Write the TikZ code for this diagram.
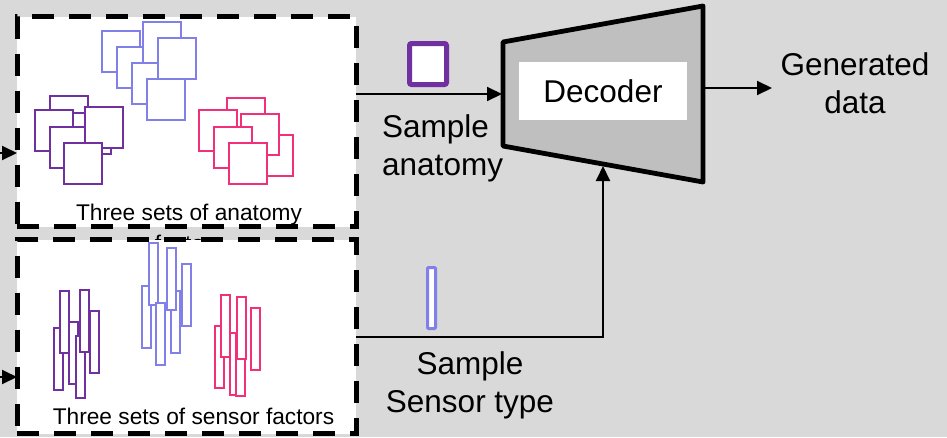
\documentclass[tikz,border=0pt]{standalone}
\usepackage{fontspec}
\setmainfont{Liberation Sans}
\usetikzlibrary{arrows.meta}
\definecolor{bgc}{RGB}{217,217,217}
\definecolor{decfill}{RGB}{191,191,191}
\definecolor{purp}{RGB}{112,48,160}
\definecolor{lblue}{RGB}{128,128,232}
\definecolor{pinkc}{RGB}{240,48,120}
\newcommand\fsq[3]{\draw[sq=#1] (#2,#3) rectangle ++(38,41);}
\newcommand\fbar[3]{\draw[sq=#1] (#2,#3) rectangle ++(8.5,62);}
\begin{document}
\begin{tikzpicture}[x=1pt,y=-1pt,
  dbox/.style={draw=black, fill=white, line width=5pt, dash pattern=on 22pt off 15pt, inner sep=0pt, outer sep=0pt},
  conn/.style={draw=black, line width=2pt, -{Triangle[length=15pt,width=14pt]}},
  sq/.style={draw=#1, fill=white, line width=2pt},
  bigtxt/.style={font=\fontsize{31.5}{38}\selectfont, inner sep=0pt},
  smalltxt/.style={font=\fontsize{22.7}{27}\selectfont, inner sep=0pt},
]
\useasboundingbox (0,0) rectangle (947,437);
\fill[bgc] (0,0) rectangle (947,437);

% top box
\node[dbox, minimum width=339, minimum height=210] (anat) at (186.5,121.5) {};
% blue squares
\fsq{lblue}{102}{31}
\fsq{lblue}{117}{47}
\fsq{lblue}{143}{22}
\fsq{lblue}{132}{63}
\fsq{lblue}{158}{38}
\fsq{lblue}{147}{79}
% purple squares
\fsq{purp}{50}{96}
\fsq{purp}{35}{110}
\fsq{purp}{73}{113}
\fsq{purp}{50}{127}
\fsq{purp}{85}{107}
\fsq{purp}{64}{143}
% pink squares
\fsq{pinkc}{227}{98}
\fsq{pinkc}{255}{135}
\fsq{pinkc}{199}{110}
\fsq{pinkc}{241}{114}
\fsq{pinkc}{214}{127}
\fsq{pinkc}{229}{143}
\node[smalltxt, anchor=base] (anattxt) at (189,220) {Three sets of anatomy};
\node[smalltxt, anchor=base] (anattxtb) at (189,251) {factors};

% bottom box
\node[dbox, minimum width=339, minimum height=194] (sens) at (186.5,336.5) {};
% purple bars
\fbar{purp}{54}{328}
\fbar{purp}{60}{291}
\fbar{purp}{69}{322}
\fbar{purp}{76}{336}
\fbar{purp}{80}{290}
\fbar{purp}{90}{311}
% blue bars
\fbar{lblue}{142}{286}
\fbar{lblue}{149}{243}
\fbar{lblue}{156}{303}
\fbar{lblue}{171}{291}
\fbar{lblue}{167}{248}
\fbar{lblue}{182}{264}
% pink bars
\fbar{pinkc}{215}{326}
\fbar{pinkc}{221}{295}
\fbar{pinkc}{230}{333}
\fbar{pinkc}{236}{334}
\fbar{pinkc}{237}{297}
\fbar{pinkc}{251}{308}
\node[smalltxt, anchor=base] (senstxt) at (193.5,424) {Three sets of sensor factors};

% decoder
\coordinate (dTL) at (503,42);
\coordinate (dTR) at (703,6);
\coordinate (dBR) at (703,182);
\coordinate (dBL) at (503,146);
\draw[line width=4.8pt, fill=decfill, line join=round] (dTL) -- (dTR) -- (dBR) -- (dBL) -- cycle;
\node[fill=white, minimum width=168, minimum height=58, inner sep=0pt, font=\fontsize{31.5}{38}\selectfont] (dec) at (603,91) {Decoder};

% sample markers
\draw[purp, fill=white, line width=5pt, rounded corners=2pt] (409.5,43.5) rectangle (446.5,84.5);
\draw[lblue, fill=white, line width=3pt, rounded corners=1pt] (427.5,267.5) rectangle (435.5,328.5);

% connectors
\coordinate (decin) at (502,94);
\draw[conn] (anat.east |- decin) -- (decin);
\coordinate (turn) at (603,337);
\coordinate (dBot) at (603,166);
\draw[conn] (sens.east |- turn) -- (turn) -- (dBot);
\coordinate (decout) at (703,88);
\coordinate (genin) at (772,88);
\draw[conn] (decout) -- (genin);
\coordinate (inA) at (0,153);
\coordinate (inB) at (0,377);
\draw[conn] (inA) -- (inA -| anat.west);
\draw[conn] (inB) -- (inB -| sens.west);

% labels
\node[bigtxt, anchor=base west] (sa1) at (382,137) {Sample};
\node[bigtxt, anchor=base west] (sa2) at (382,175) {anatomy};
\node[bigtxt, anchor=base] (ss1) at (470,374) {Sample};
\node[bigtxt, anchor=base] (ss2) at (470,412) {Sensor type};
\node[bigtxt, anchor=base] (gen1) at (855,75) {Generated};
\node[bigtxt, anchor=base] (gen2) at (855,113) {data};
\end{tikzpicture}
\end{document}
